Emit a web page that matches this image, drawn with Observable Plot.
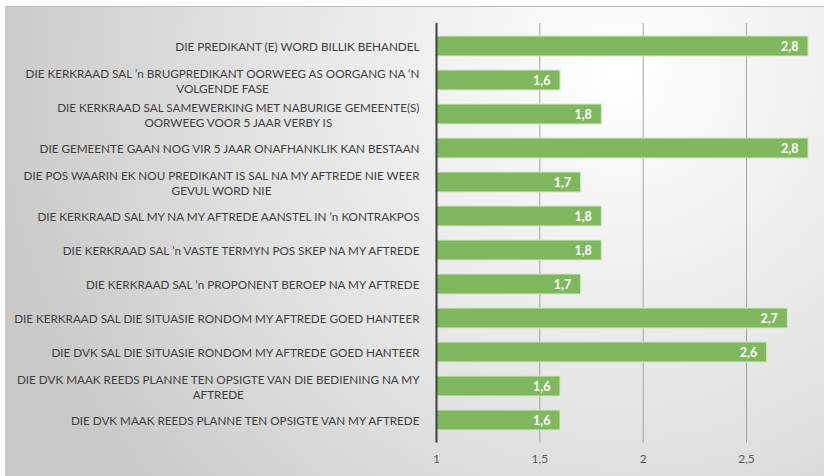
<!DOCTYPE html>
<html>
<head>
<meta charset="utf-8">
<script src="https://cdn.jsdelivr.net/npm/d3@7"></script>
<script src="https://cdn.jsdelivr.net/npm/@observablehq/plot@0.6"></script>
<style>
  html, body { margin: 0; padding: 0; background: #ffffff; }
  #chart { width: 824px; height: 476px; }
</style>
</head>
<body>
<div id="chart"></div>
<script>
const labels = [
  "DIE PREDIKANT (E) WORD BILLIK BEHANDEL",
  "DIE KERKRAAD SAL ’n BRUGPREDIKANT OORWEEG AS OORGANG NA ‘N\nVOLGENDE FASE",
  "DIE KERKRAAD SAL SAMEWERKING MET NABURIGE GEMEENTE(S)\nOORWEEG VOOR 5 JAAR VERBY IS",
  "DIE GEMEENTE GAAN NOG VIR 5 JAAR ONAFHANKLIK KAN BESTAAN",
  "DIE POS WAARIN EK NOU PREDIKANT IS SAL NA MY AFTREDE NIE WEER\nGEVUL WORD NIE",
  "DIE KERKRAAD SAL MY NA MY AFTREDE AANSTEL IN ’n KONTRAKPOS",
  "DIE KERKRAAD SAL ’n VASTE TERMYN POS SKEP NA MY AFTREDE",
  "DIE KERKRAAD SAL ’n PROPONENT BEROEP NA MY AFTREDE",
  "DIE KERKRAAD SAL DIE SITUASIE RONDOM MY AFTREDE GOED HANTEER",
  "DIE DVK SAL DIE SITUASIE RONDOM MY AFTREDE GOED HANTEER",
  "DIE DVK MAAK REEDS PLANNE TEN OPSIGTE VAN DIE BEDIENING NA MY\nAFTREDE",
  "DIE DVK MAAK REEDS PLANNE TEN OPSIGTE VAN MY AFTREDE"
];
const values = [2.8, 1.6, 1.8, 2.8, 1.7, 1.8, 1.8, 1.7, 2.7, 2.6, 1.6, 1.6];
const xTicks = [1, 1.5, 2, 2.5];
const xDomain = [1, 2.8];

const data = labels.map((label, i) => ({label, value: values[i]}));
const fmt = d => String(d).replace(".", ",");

const svg = Plot.plot({
  width: 824,
  height: 476,
  marginLeft: 436,
  marginRight: 16,
  marginTop: 23,
  marginBottom: 33.5,
  style: {background: "transparent", fontFamily: "Lato, 'Open Sans', sans-serif", overflow: "visible"},
  x: {domain: xDomain, ticks: xTicks, tickFormat: fmt, label: null, axis: null},
  y: {domain: labels, paddingInner: 0.4, paddingOuter: 0.2, axis: null},
  marks: [
    Plot.gridX(xTicks, {stroke: "#8c8c8c", strokeOpacity: 0.75, strokeWidth: 1}),
    Plot.barX(data, {x1: xDomain[0], x2: "value", y: "label", fill: "#80b860", stroke: "#d4e9c6", strokeWidth: 1}),
    Plot.ruleX([xDomain[0]], {stroke: "#404040", strokeWidth: 2}),
    Plot.text(data, {x: "value", y: "label", text: d => fmt(d.value), textAnchor: "end", dx: -10, fill: "white", fontWeight: "bold", fontSize: 12.5}),
    Plot.text(data, {x: xDomain[0], y: "label", text: "label", textAnchor: "end", dx: -17, fill: "#404040", fontSize: 11.7, lineHeight: 1.28}),
    Plot.axisX(xTicks, {tickSize: 0, tickPadding: 11, tickFormat: fmt, fontSize: 12, color: "#595959", label: null})
  ]
});

// background gradient
const ns = "http://www.w3.org/2000/svg";
const defs = document.createElementNS(ns, "defs");
defs.innerHTML = `<radialGradient id="bgGrad" gradientUnits="userSpaceOnUse" cx="620" cy="70" r="640">
  <stop offset="0" stop-color="#ffffff"/>
  <stop offset="0.55" stop-color="#e4e4e4"/>
  <stop offset="1" stop-color="#c9c9c9"/>
</radialGradient>`;
const bg = document.createElementNS(ns, "rect");
bg.setAttribute("x", 5); bg.setAttribute("y", 7);
bg.setAttribute("width", 819); bg.setAttribute("height", 469);
bg.setAttribute("fill", "url(#bgGrad)");
const topLine = document.createElementNS(ns, "line");
topLine.setAttribute("x1", 5); topLine.setAttribute("x2", 824);
topLine.setAttribute("y1", 6.5); topLine.setAttribute("y2", 6.5);
topLine.setAttribute("stroke", "#bdbdbd");
svg.insertBefore(topLine, svg.firstChild);
svg.insertBefore(bg, svg.firstChild);
svg.insertBefore(defs, svg.firstChild);

document.getElementById("chart").appendChild(svg);

// center multi-line labels relative to their longest line (right edge kept)
svg.querySelectorAll("text").forEach(t => {
  const spans = t.querySelectorAll("tspan");
  if (spans.length > 1 && t.getAttribute("text-anchor") !== "middle") {
    let maxW = 0;
    spans.forEach(s => { maxW = Math.max(maxW, s.getComputedTextLength()); });
    const x0 = parseFloat(spans[0].getAttribute("x") || t.getAttribute("x") || 0);
    spans.forEach(s => {
      const w = s.getComputedTextLength();
      const shift = (maxW - w) / 2;
      const sx = parseFloat(s.getAttribute("x") || x0);
      s.setAttribute("x", sx - shift);
    });
  }
});
</script>
</body>
</html>
